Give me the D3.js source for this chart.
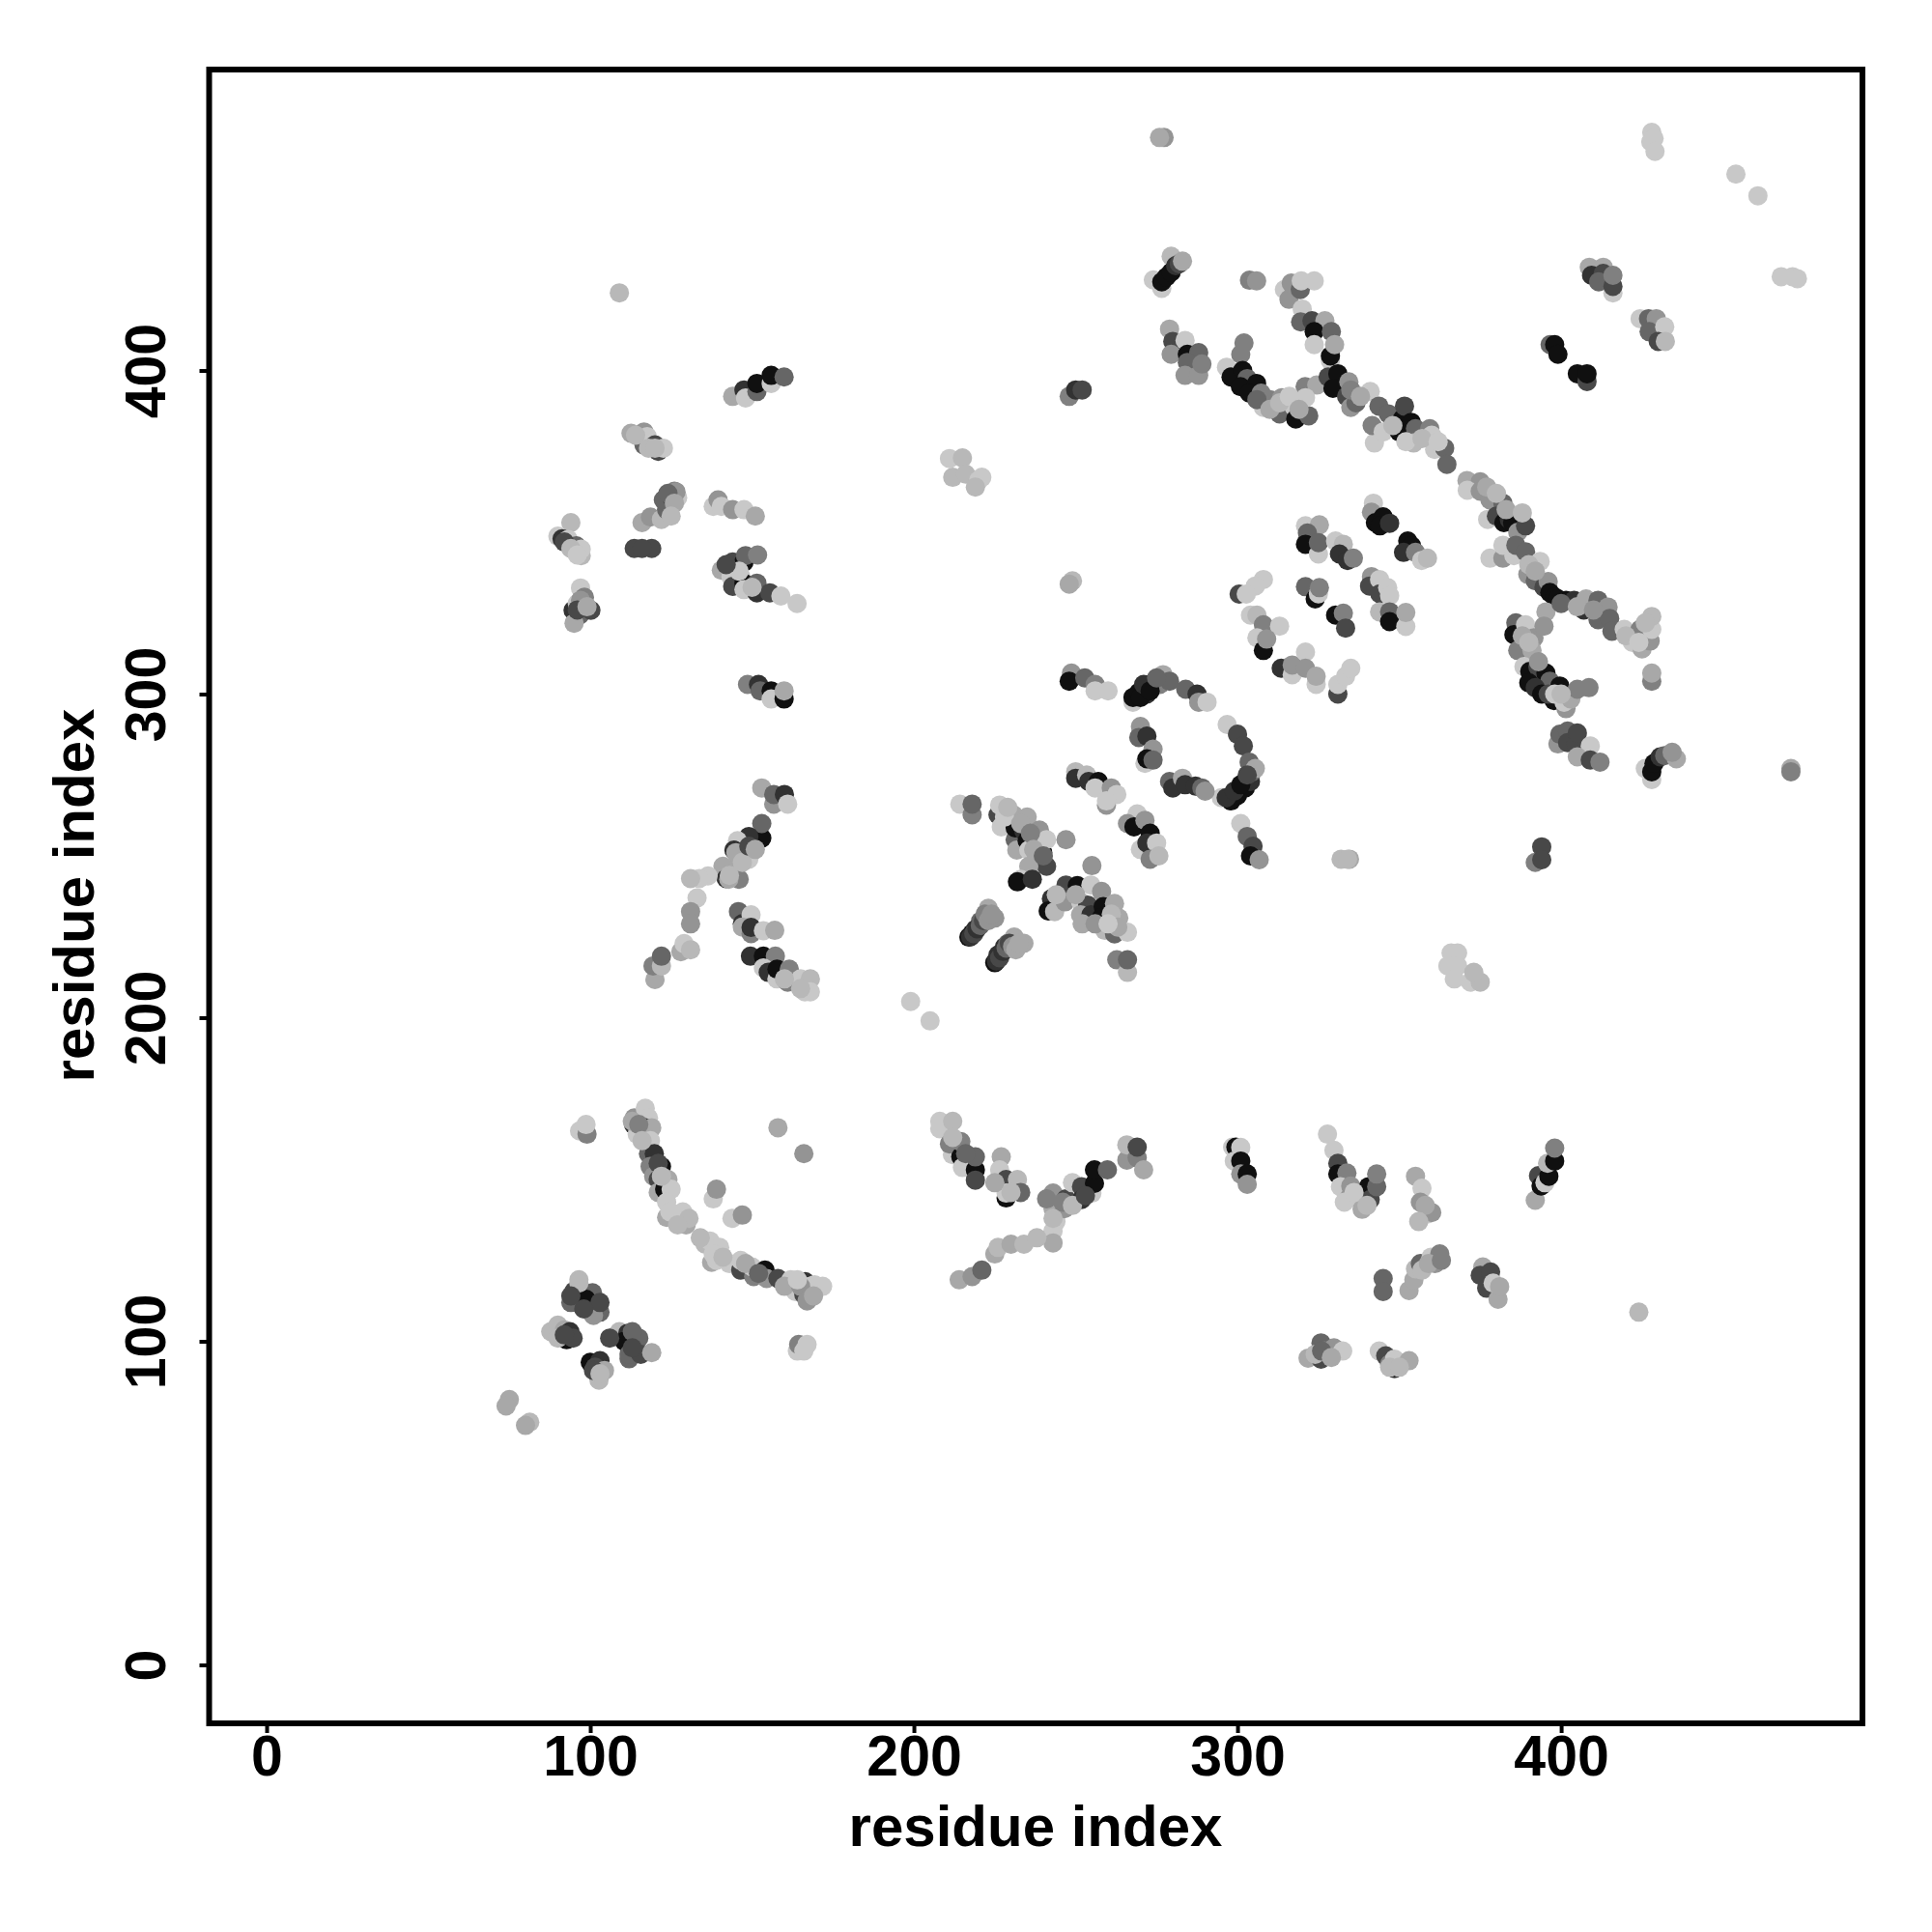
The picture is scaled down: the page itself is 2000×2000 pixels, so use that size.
<!DOCTYPE html>
<html><head><meta charset="utf-8"><script src="https://cdn.jsdelivr.net/npm/d3@7"></script>
<style>html,body{margin:0;padding:0;background:#fff}svg{display:block}text{font-family:"Liberation Sans",Arial,sans-serif;font-weight:700;fill:#000}</style></head>
<body><svg id="c" width="2000" height="2000"></svg>
<script>
// each contact: [residue i, residue j, distance class 0 (dark) .. 8 (light)]
const tickLabels=[0,100,200,300,400];
const axisTitle="residue index";
const isolated=[[75,82,6],[74,80,6],[81.3,75,7],[80,74,6],[199,205,8],[205,199,8],[424,109,7],[109,424,7],[471,277,6],[471,276,4],[158,166,6],[166,158,5],[249,335,7],[248,334,6],[332,249,7],[334.6,249,6]];
const blockA=[[96.5,119,7],[95,115.5,2],[94,112,3],[95.7,112,3],[100.7,115,3],[98.7,113,0],[103,109,3],[101,108,5],[103,112,2],[96.5,118,7],[87.8,103,7],[90,105,7],[92,103.5,6],[92.7,100.5,0],[93.7,103,1],[94.7,101,2],[100,93.5,0],[103,94,1],[102.7,88,7],[101.5,92,2],[104.4,91,6],[107.7,101.5,3],[109,103,7],[111.6,102.5,1],[110.5,100,0],[115,101,3],[112,94.6,3],[112,96,3],[115.6,96,2],[119,96.5,6]];
const curveA=[[113.6,169,5],[113.4,167,1],[114.5,164,8],[117,172,8],[118,169,8],[117,166,0],[119,166,6],[118.6,162,8],[118,158,3],[119.8,158,1],[118.5,154,4],[122,154,0],[119.6,151,5],[121,150,2],[124,150,6],[121,146,6],[123,147,0],[125,147,8],[123.6,143,8],[123.6,138.3,6],[124.6,140,8],[129.6,136,6],[128.6,140,8],[130.5,138,7],[135.5,130,7],[137,131,8],[137.5,124.4,6],[140,129,8],[139,125,8],[143,124,8],[146.5,122,2],[146.5,125,8],[150.5,120,4],[150,123,8],[154,122,0],[154.5,119.4,5],[158,119.4,2],[162,119,8],[163.4,115.4,8],[166,114.5,2],[168.4,114,6],[166.4,118.4,1],[168,117,8],[169.3,117.5,8],[171.8,117,8]];
const sideA=[[138,144,8],[139,147,5],[143.8,138,8],[147,139,5],[96.7,165,8],[99,164,4],[98.7,167,8],[164,97,8],[164.4,99,4],[166,97,8],[167,99,8]];
const topLeft=[[144,392,6],[147.5,394,1],[148,391.5,8],[151.5,393.5,3],[151.5,396,0],[155.9,396,8],[155.9,398.5,0],[159.9,398,3],[112.6,380.6,6],[116.6,377,3],[116.6,381,5],[117.6,379.6,8],[121,375,2],[120,377,2],[122.6,376,8],[116,353,6],[118.6,354.7,5],[122,354,7],[123.6,357,3],[122.6,360,3],[126,362.7,4],[125,361,2],[127,360.7,8],[126.5,362.5,5],[113.6,345,2],[119,345,2],[116,345,2],[94,353,7],[90,348.8,8],[91.3,348,1],[93.2,347.8,8],[95.7,345.8,3],[97.2,342.8,7],[97.2,344.8,8],[97,332.8,8],[94.7,325.9,1],[96,328,8],[98.2,329.9,4],[96.7,324.4,3],[95,321.9,6],[100.2,325.9,2]];
const midLeft=[[138,358,8],[139.5,360,5],[140.5,358,8],[144,357,5],[147.5,357,8],[151,355,6],[140.5,338.3,6],[143.5,336.3,8],[144,340.8,2],[147.5,340.8,0],[148,342.8,3],[151.7,343,4],[146.5,336.3,8],[144,333.3,2],[147.5,334.3,0],[147.5,332.3,8],[151.5,331.3,1],[151.5,334.3,3],[155.5,331.3,2],[158.9,330.3,8],[163.9,328,8],[148.6,303,4],[152,303,1],[152.5,301,3],[155.9,301,0],[155.9,298.5,8],[159.9,298.5,0],[159.9,301,6],[153,271,6],[156.7,266,5],[156.7,269,3],[160,269,1],[161,266,8],[153,255.5,0],[153,260,3],[149,256,1],[145.5,254.7,8],[144.4,251.8,1],[149,252,5],[149,249,8],[145.5,247,6],[141,246.8,6],[142,243,1],[146,242.8,4],[142.8,242.8,6],[136.4,243.8,8],[133.7,243,8],[131,243,7],[133,237,8],[131,232.8,5],[131,229,5],[128,220.4,6],[129,222.9,8],[131,221,7],[120,211.8,6],[119.4,216,4],[122,216,7],[122,219,3],[145.8,232.8,3],[147,229,1],[149.7,231.8,8],[147,228,6],[149.7,226,4],[149.7,227.9,1],[153.5,226.9,8],[157,227,6],[149.5,219,1],[153.5,219,0],[157.2,219,4],[153.5,215.4,8],[155,214,1],[157.7,212,8],[157.7,215,0],[161,211,4],[161.5,215,4],[165,212,8],[168,212,7],[166.3,208,8],[168,208,8]];
const hairpinMid=[[214.2,266,8],[218,262.7,4],[218,266,3],[226,262.7,2],[227,259,8],[226.5,265.7,8],[230.8,262.7,6],[231.3,255,3],[231.8,251.8,6],[231.3,258.7,0],[235,262,6],[234,257.7,1],[235,254.7,0],[235.5,251.8,8],[238.8,258,5],[239.8,251,0],[241,255,8],[241,246.8,2],[235.5,246.8,6],[233,242.8,8],[232,242,0],[236.6,242.8,1],[247,255,5],[255,247,5],[247,241,2],[250.5,240.8,0],[242.5,236.8,1],[241.5,233,0],[243.5,232.8,7],[246.7,235.8,5],[251.5,235.8,8],[254.7,241,8],[258,239,5],[253.7,234.8,2],[251.5,231.8,6],[254.7,231.8,1],[258.5,234.3,0],[258,231,0],[262,235.3,6],[259,227,7],[263.3,230.8,6],[262,225.9,3],[266,226.4,8],[262.7,217.9,4],[266,214,7],[266,217.9,3]];
const strandsMid=[[217,224.9,0],[218,226,0],[219,227.3,1],[220.6,229.8,3],[222,231,3],[223,233.8,6],[225,230.8,5],[225,217,0],[226,219.4,1],[228,221.9,1],[229,222.9,3],[230,223.5,4],[231,224.9,6],[234,223,6],[250,276,7],[250,274,1],[253.4,275,7],[254,273,1],[257,273,0],[256,271,8],[261,271,5],[262.7,269,8],[259.5,265.7,5],[259.5,267,8]];
const upperLeftMid=[[211,372.8,8],[215,373,7],[212,367,7],[216,368,7],[220,366,8],[221,367,8],[219,364,7],[248,392,4],[250,394,1],[252,394,2],[248.7,306.5,5],[248,304,0],[252.8,305,3],[256,303,4],[256,301,8],[260,301,8],[269,263,8],[266,260,5],[268,259,0],[271.4,261,5],[273,257,0],[270,252,8],[272,254,1],[275,254,8],[273,249,4],[275.7,250,7]];
const ring=[[267.7,297.5,8],[267.7,299,0],[269.5,300.5,0],[271.4,301.5,0],[272,300,1],[273,303,1],[274.5,304,1],[277,306,6],[276,303,4],[279,304,3],[284,301.5,3],[287.5,300,1],[288,297.5,5],[290.6,297.5,8],[270,290,5],[269.5,286.6,3],[272,287,1],[273.9,283,5],[271.4,278.6,8],[272,280,0],[273.9,279.6,3],[296.8,290.6,8],[300,287.6,2],[301.8,284,2],[303.6,279,3],[295,268,8],[298,267,0],[300,268.7,0],[302.4,271,0],[304,273,1],[304.5,276,3],[305.5,277,6],[279,273,3],[280,271,1],[283,274,6],[283.8,272,1],[287,271.6,1],[289,271,3],[290,270,5],[301,260,8],[303,256,3],[304.8,253,2],[304,250,0],[306.7,248.8,5],[334,249,7]];
const betaUpper=[[342,359,8],[341.4,356.2,5],[342.6,353,0],[345,354.8,0],[344,352,0],[347,352.8,1],[352.6,347.3,0],[353.8,345.8,0],[351.3,343.8,1],[355,343.8,4],[356.9,341.3,8],[358.7,342,7],[321,352,8],[325.3,352.3,6],[321.6,349.8,3],[321,346.3,0],[325,343.3,8],[325,346.8,3],[330.3,347.3,8],[332.7,346.3,7],[331.5,343.3,1],[334,341.3,1],[335.8,342,4],[341.4,336.3,5],[340.8,333.4,2],[343.9,335.4,8],[344,331,2],[346.4,332.9,8],[347,330.4,8],[343.9,325.4,7],[347,325.4,3],[347,322.4,0],[352,320.9,8],[352,325.2,6],[308,335.4,8],[305.5,333.4,8],[300.5,330.9,2],[302.7,330.9,8],[321,333.2,3],[324,329.4,0],[325,331,8],[325.3,332.9,4],[330.3,324.4,0],[332.7,325,4],[333.4,320.4,2],[304,324.4,8],[306,324.4,7],[308,321.4,4],[313,321,8],[306,317.4,8],[308,313.5,0],[309,317,5],[313.5,308,1],[316.9,306,8],[316.9,309,5],[321,313,8],[321,308,5],[324.3,303,8],[324.3,305.5,6],[331,300,2],[331,303,8],[333.4,305.5,8],[335,308,8],[366,220,8],[368,220,8],[365,216,8],[368,216,8],[367,212,8],[372,211,8],[375,211,7],[373,214,7]];
const rightChain=[[370.9,366,6],[375,365.6,5],[371,363,8],[375,362.7,5],[378,360,5],[382,359,3],[377.3,354,8],[380,355,2],[382.3,353,0],[384,354,1],[385,353,0],[386.6,350,5],[389,352,2],[378,342,8],[382,342,5],[382,346,8],[385.4,342.8,8],[386,346,3],[389,344,3],[393.5,341,8],[389.7,337,5],[392,335,3],[394.7,333,2],[396,334.8,5],[396.5,331.4,0],[398,330,0],[399,329.4,0],[401.5,329,0],[404,329,1],[407,326,1],[407.7,329.4,6],[411.4,329,3],[411.4,323,3],[414.5,326.9,5],[415,323.4,3],[415.7,319.4,3],[419.5,320,8],[422,316,8],[425,314,6],[424.4,320,4],[427.5,316.4,5],[428,320,8],[428,324,7],[428,304,4],[428,306.5,6],[386,322,3],[385.4,318.4,0],[389,321.4,8],[386.6,313.5,4],[391.6,317.4,5],[395.3,325.4,6],[394.7,321,5],[391,313.5,6],[388.5,308.5,8],[390.3,307,0],[392.8,308.5,2],[392.8,304.5,2],[395.3,306.5,0],[394.7,301.5,0],[396.5,304,3],[397.8,298,0],[399.6,302.5,0],[401.5,295.5,5],[400.9,297.5,8],[403,298.5,6],[405,301.5,4],[408.6,302,4],[399,284.6,5],[399.6,287.6,3],[402,288.6,3],[402,285,2],[404.6,284.6,2],[405,288,2],[409,284,8],[405,280.6,6],[409,279.6,2],[412,279,4],[428,273.6,8],[426,277,8],[428,276,0],[428.7,278.6,0],[430.6,280.6,1],[432,281,3],[435.6,280,6],[434.3,282,5],[394,252.8,2],[392,248,4],[394,248.8,2]];
const topRightCluster=[[279.5,435.3,7],[274,428,8],[276.6,425.4,8],[276.6,427.4,0],[278,428.9,0],[279.5,430.4,0],[280.9,432.4,1],[282,433,2],[283,433.8,6],[277.3,472,5],[275.9,472,6],[303.7,427.9,4],[305.9,427.7,5],[314.5,425,8],[315.9,422,5],[316.6,427,5],[319.4,425,3],[319.7,427.7,8],[323.7,427.7,8],[320,419,8],[319.5,415,3],[323,415.4,2],[327,415.4,6],[323.7,412,0],[329,412,3],[323.7,408,8],[328.7,403,8],[328.7,404.5,0],[330,408,6],[428,473.6,8],[427.7,470.7,8],[428.7,471.7,8],[429,467.7,8],[454,460.7,8],[460.8,454,8],[408.7,431.9,6],[413,431.9,6],[409.4,429.4,1],[413,430,2],[411.6,427.4,3],[416,424,8],[416,426,2],[416,429.4,4],[424.4,416,8],[427,416,3],[429.4,416,5],[427.2,412,3],[432,413.5,8],[430,409,2],[432.2,409,7],[468,429,8],[471.5,429,8],[473,428.4,8],[396.6,408,3],[398,408,0],[399,405,0],[405,399,0],[408,396.6,2],[408,399,0]];
const topMidChain=[[279,412.8,6],[280,409,2],[283.8,409.3,8],[279.5,405,5],[284.5,405,0],[288,405.5,3],[284.5,402.5,3],[283.8,398.5,5],[288,398.5,5],[289,402,4],[302,408.5,4],[301,405,4],[296.6,401,8],[298,398,0],[301.6,400,0],[303,397.5,3],[300.9,395,0],[305.9,396,0],[303.7,393,0],[307.3,393,4],[308,388.6,8],[310,391,4],[313.7,391.6,5],[313,386.6,3],[317.3,389,8],[318,385,0],[322,386,3],[320.9,395,4],[324.5,395.5,6],[321,391.6,8],[328,398,2],[331,399,0],[329.5,394.5,0],[334.4,396.5,5],[333.7,392,2],[335,388.6,5],[336.6,390,3],[341,393.5,8],[342.3,377.6,8],[341.6,383,4],[343.7,389,3],[345,381,8],[346.6,386.6,3],[350,381,0],[350.9,385,0],[351.6,389,2],[353.7,384,0],[355,382,3],[354.4,377.6,7],[359.4,382,4],[360,380,8],[360.9,375.6,8],[364,376,3],[364.7,371,3]];
const lowerRight=[[208,165.7,8],[208,168,8],[212,168,7],[211.9,157.7,8],[211,161,4],[214.5,157,0],[214.5,161.7,4],[215,153.7,8],[219,153,0],[219,157,3],[219,149.8,2],[227,157,6],[226.5,153,8],[228.5,150,2],[228.5,144.3,0],[228.5,145.8,8],[232,150,7],[233,146,3],[243,145.8,5],[243,141,6],[243.9,137,8],[243,134,8],[243,130.4,6],[246.5,141,5],[247,144,2],[249,149,8],[251.8,147.8,2],[251.8,143.8,1],[255,145.8,8],[255.8,148.8,0],[255.8,153,0],[259.8,153,3],[265.8,156,5],[265.8,160.7,7],[269,156.7,4],[269,160,2],[271,153,6],[214,119,6],[218,120,5],[221,122,3],[225,127,6],[226,129,7],[230,130,6],[234,130,7],[238,132,7],[298.5,160,8],[299.5,160,0],[301,159.9,8],[299,155.7,8],[301,155.7,0],[301,151.7,5],[303,151.7,0],[303,148.5,5],[327.8,164,8],[329.8,159,8],[331,155,2],[331,151.7,0],[333.8,152,4],[331.8,147.8,8],[335,148,5],[334.5,144.3,5],[337,144.3,8],[338.5,140.8,6],[340.5,147.8,0],[341,143.8,2],[343,147.8,3],[343,151.7,4],[355,151,6],[357,147.3,8],[356.5,143,5],[358.5,139.3,8],[360,139.8,5],[392,143.6,6],[393,151.2,2],[393.8,148,0],[395,149,8],[396.2,151,0],[395.8,155,7],[398,155.7,0],[398,159.7,4],[345,119.4,3],[345,115.4,3],[353,115.7,6],[354.5,119,6],[355,122.4,7],[356.5,124,3],[359.8,126,8],[361,124,5],[362.5,127,4],[375.8,123,6],[375,120.4,2],[378.2,121.4,2],[377,116.4,2],[380.5,113,6],[379,118,8],[381,116.9,6],[321.8,94.8,6],[325.8,94.5,2],[325.8,99.5,3],[327,97,4],[329.8,98,5],[332.5,97,8],[343.8,97,8],[345.8,95.5,2],[348.5,91.6,1],[347,93,4],[348.5,94.5,8],[353,94,6]];
const denseDarkStrands=[[217.5,225,1],[218.5,226,2],[219.5,227.5,1],[220.5,228.5,3],[221.5,230,2],[222,232,4],[223,230,5],[224,232,5],[225.5,217.5,1],[226.5,218.5,2],[227.5,220.5,1],[228.5,221.5,3],[229.5,223,2],[230.5,222,5],[231.5,221,6],[232.5,223,6],[296.5,268,1],[299,270,1],[301,272,0],[303,275,2],[270,299,0],[271,303,1],[273,301,0],[275,305,3],[390,303.5,0],[392,302,1],[394,300,0],[396,300,2]];
const overlayMid=[[228,262,8],[229,265,7],[233,260,6],[236,257,4],[237,252,6],[240,250,3],[244,238,7],[250,238,6],[252,229,6],[256,229,5],[261,232,7],[263,228,6],[260,229,8],[143,244,7],[145,251,6],[147,248,7],[149,253,2],[151,252,6],[160,212,7],[165,209,7],[146,338,8],[150,333,7],[142,340,2]];
const overlayChain=[[306,391,3],[310,388,6],[313,390,7],[316,392,8],[319,388,6],[335,394,4],[338,392,6],[348,383,7],[352,378,8],[357,379,7],[362,378,8],[377,364,6],[380,362,7],[383,357,6],[388,356,7],[390,340,7],[392,338,6],[400,328,3],[405,327,6],[410,326,5],[420,318,7],[424,316,8],[426,322,7],[388,318,6],[393,310,5],[390,316,7],[398,300,8],[400,300,7]];
const overlayLeft=[[113,168,6],[115,167,4],[116,162,7],[121,155,2],[122,151,7],[127,136,7],[134,132,7],[138,127,8],[141,126,7],[148,124,6],[152,121,3],[160,117,6],[165,117,5],[164,119,8],[167,112.5,5],[169,114,6],[90,101,7],[92,102,2],[106,101,2],[113,103,3],[113,98,2],[101,91,2],[103,90,7],[98,110,2],[94,114,2],[114,380,7],[118,376,7],[120,376,7],[124,362,3],[126,359,6],[125,355,7],[92,347,2],[94,345,7],[96,343,8],[97,329,5],[96,326,2],[99,327,6]];
const overlayLower=[[241,144,4],[243,138,7],[246,143,4],[249,142,7],[253,145,2],[225,149,6],[230,146,7],[212,163,7],[216,158,3],[333,143,8],[336,146,8],[340,142,7],[358,142,6],[356,137,7],[357,122,7],[359,124,6],[363,125,4],[324,96,7],[326,97,3],[329,95,6],[347,92,7],[350,92,7]];

const groups=[isolated,blockA,curveA,sideA,topLeft,midLeft,hairpinMid,strandsMid,upperLeftMid,ring,betaUpper,rightChain,topRightCluster,topMidChain,lowerRight,denseDarkStrands,overlayMid,overlayChain,overlayLeft,overlayLower];

const svg=d3.select("#c");
const x=d3.scaleLinear().domain([-17.76,493.1]).range([216.5,1928]);
const y=d3.scaleLinear().domain([-18.06,493]).range([1784,72]);
const shade=d3.scaleLinear().domain([0,1,2,3,4,5,6,8]).range([16,50,72,102,128,148,168,200]);

svg.append("g").selectAll("circle").data(groups.flat()).join("circle")
  .attr("cx",d=>x(d[0])).attr("cy",d=>y(d[1])).attr("r",10)
  .attr("fill",d=>{const g=Math.round(shade(d[2]));return d3.rgb(g,g,g);});

const gx=svg.append("g").attr("transform","translate(0,1784)")
  .call(d3.axisBottom(x).tickValues(tickLabels).tickFormat(d3.format("d")).tickSize(10).tickPadding(10));
const gy=svg.append("g").attr("transform","translate(216.5,0)")
  .call(d3.axisLeft(y).tickValues(tickLabels).tickFormat(d3.format("d")).tickSize(10).tickPadding(0));
for(const g of [gx,gy]){g.select(".domain").remove();g.selectAll("line").attr("stroke","#000").attr("stroke-width",4);g.selectAll("text").attr("font-size",59).attr("fill","#000").style("font-family",'"Liberation Sans"').style("font-weight",700);}
gx.selectAll("text").attr("dy",null).attr("y",54);
gy.selectAll("text").attr("x",null).attr("dy",null).attr("text-anchor","middle").attr("transform","translate(-45.5,0) rotate(-90)");

svg.append("rect").attr("x",216.5).attr("y",72).attr("width",1711.5).attr("height",1712).attr("fill","none").attr("stroke","#000").attr("stroke-width",6);
svg.append("text").attr("x",1072).attr("y",1911).attr("text-anchor","middle").attr("font-size",60).text(axisTitle);
svg.append("text").attr("transform","translate(97,927) rotate(-90)").attr("text-anchor","middle").attr("font-size",60).text(axisTitle);
</script></body></html>
